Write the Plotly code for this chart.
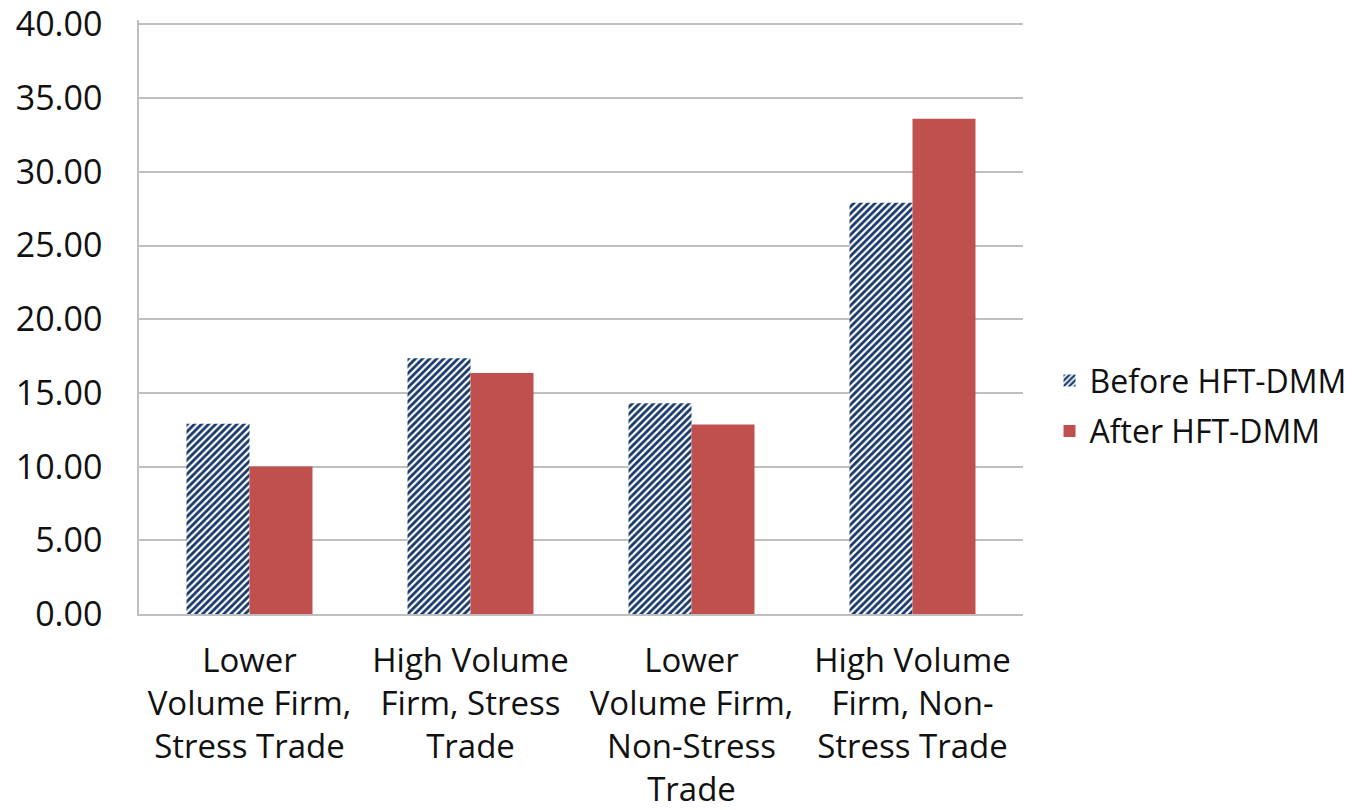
import plotly.graph_objects as go

categories = [
    "Lower<br>Volume Firm,<br>Stress Trade",
    "High Volume<br>Firm, Stress<br>Trade",
    "Lower<br>Volume Firm,<br>Non-Stress<br>Trade",
    "High Volume<br>Firm, Non-<br>Stress Trade",
]
before_vals = [12.9, 17.35, 14.3, 27.9]
after_vals = [10.0, 16.35, 12.85, 33.6]
tick_vals = [0, 5, 10, 15, 20, 25, 30, 35, 40]
tick_text = ["0.00", "5.00", "10.00", "15.00", "20.00", "25.00", "30.00", "35.00", "40.00"]

fig = go.Figure()
fig.add_trace(go.Bar(
    x=categories, y=before_vals, name="Before HFT-DMM", legendgroup="b",
    marker=dict(color="white", line=dict(width=0),
                pattern=dict(shape="/", fgcolor="#17386A", bgcolor="white",
                             fgopacity=1, size=5, solidity=0.55)),
))
fig.add_trace(go.Bar(
    x=categories, y=after_vals, name="After HFT-DMM", legendgroup="a",
    marker=dict(color="#C0504D", line=dict(width=0)),
))

fig.update_layout(
    width=1362, height=810,
    margin=dict(l=139, r=339, t=20, b=196, autoexpand=False),
    paper_bgcolor="white", plot_bgcolor="white",
    barmode="group", bargap=0.43, bargroupgap=0,
    font=dict(family="Open Sans", color="#111111"),
    legend=dict(x=1.03, y=0.35, xanchor="left", yanchor="middle",
                font=dict(size=32, color="#111111"), tracegroupgap=6,
                itemwidth=30),
    showlegend=True,
)
fig.update_yaxes(range=[0, 40.3], tickvals=tick_vals, ticktext=tick_text,
                 showgrid=True, gridcolor="#BFBFBF", gridwidth=1.5,
                 showline=True, linecolor="#BFBFBF", linewidth=1.5,
                 tickfont=dict(size=34, color="#111111"), ticks="", ticklabelstandoff=28,
                 ticklabeloverflow="allow",
                 zeroline=False, automargin=False)
fig.update_xaxes(showline=True, linecolor="#BFBFBF", linewidth=1.5, ticks="",
                 tickfont=dict(size=33, color="#111111"), tickangle=0,
                 ticklabelstandoff=17, ticklabeloverflow="allow", automargin=False)

fig.write_html("out.html")
